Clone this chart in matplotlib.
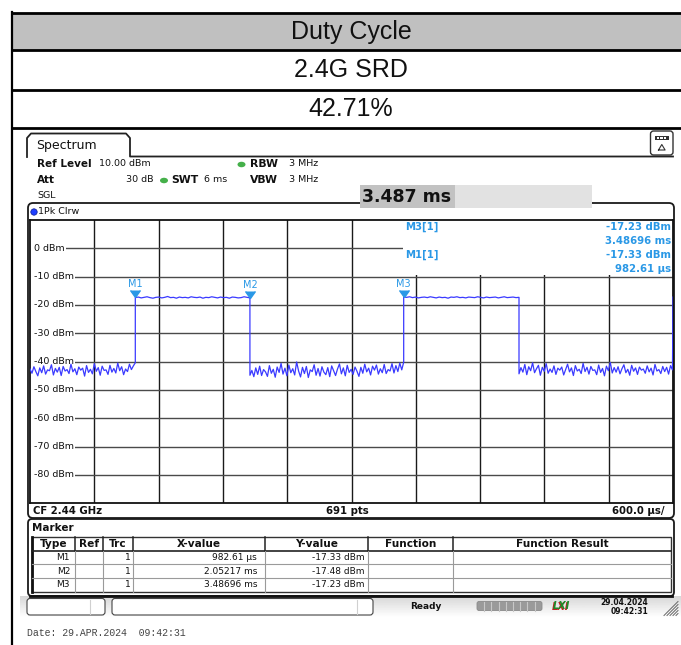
import numpy as np
import matplotlib
matplotlib.use("Agg")
import matplotlib.pyplot as plt
from matplotlib.patches import Rectangle, FancyBboxPatch, Ellipse, Circle

# ---------------- data ----------------
title_rows = ["Duty Cycle", "2.4G SRD", "42.71%"]

t_total_ms = 6.0
x_div_ms = 0.6
y_ref = 10
y_bottom = -90
y_label_vals = [0, -10, -20, -30, -40, -50, -60, -70, -80]

edges_ms = [0.0, 0.98261, 2.05217, 3.48696, 4.5630, 5.995]

off1 = [-42.6, -44.1, -41.8, -43.5, -45.0, -42.2, -43.9, -41.5, -44.4, -42.9, -43.2, -41.1, -44.7, -42.4,
        -43.7, -42.0, -44.9, -41.7, -43.3, -42.8, -44.2, -40.9, -43.6, -42.5, -44.6, -41.9, -43.0, -42.3,
        -45.1, -41.4, -43.8, -42.7, -44.3, -40.7, -43.4, -42.1, -44.8, -41.6, -43.1, -42.9, -44.5, -41.3,
        -43.7, -42.4, -44.0, -40.5, -43.2, -41.8, -44.6, -42.6, -43.5, -40.9, -42.8, -41.5, -40.4]
on1 = [-17.4, -17.2, -17.5, -17.3, -17.1, -17.4, -17.6, -17.3, -17.2, -17.5, -17.3, -17.0, -17.4, -17.3,
       -17.6, -17.2, -17.4, -17.3, -17.5, -17.1, -17.3, -17.4, -17.2, -17.6, -17.3, -17.4, -17.1, -17.3,
       -17.5, -17.2, -17.4, -17.3, -17.6, -17.2, -17.3, -17.5, -17.4, -17.1, -17.3, -17.48]
off2 = [-44.8, -43.1, -45.3, -42.2, -44.5, -41.6, -44.9, -42.8, -43.6, -45.2, -41.4, -44.1, -42.7, -45.5,
        -41.9, -43.8, -40.6, -44.4, -42.3, -45.0, -41.2, -43.9, -42.5, -44.7, -40.1, -43.3, -45.4, -42.0,
        -44.2, -41.7, -45.6, -42.9, -43.5, -41.1, -44.8, -42.4, -45.1, -41.8, -43.7, -44.6, -42.1, -45.3,
        -41.5, -43.2, -44.9, -42.6, -40.8, -44.3, -42.2, -45.0, -41.3, -43.8, -42.7, -44.5, -41.9, -43.4,
        -45.2, -42.0, -44.1, -40.9, -43.6, -42.3, -44.7, -41.6, -43.0, -41.2, -44.4, -42.5, -43.9, -41.0,
        -44.2, -42.8, -43.3, -40.7, -44.0, -41.4, -43.5, -40.5, -42.9, -40.2]
on2 = [-17.23, -17.3, -17.1, -17.4, -17.2, -17.5, -17.3, -17.2, -17.4, -17.1, -17.3, -17.5, -17.2, -17.4,
       -17.3, -17.6, -17.2, -17.3, -17.1, -17.4, -17.3, -17.5, -17.2, -17.3, -17.4, -17.1, -17.3, -17.5,
       -17.2, -17.4, -17.3, -17.2, -17.5, -17.3, -17.1, -17.4, -17.3, -17.2, -17.4, -17.3]
off3 = [-44.3, -42.1, -43.7, -41.0, -44.6, -41.8, -43.2, -40.4, -43.9, -42.5, -41.3, -44.8, -42.0, -43.4,
        -40.7, -44.1, -42.6, -43.8, -41.5, -44.5, -42.3, -43.0, -41.9, -44.7, -42.8, -40.9, -43.6, -42.2,
        -44.9, -41.4, -43.3, -42.7, -44.2, -40.6, -43.5, -42.0, -44.4, -41.7, -43.1, -42.9, -44.6, -41.2,
        -43.8, -42.4, -45.0, -41.6, -43.2, -40.3, -44.0, -42.1, -43.7, -41.8, -44.3, -42.5, -41.1, -43.9,
        -42.7, -44.8, -41.3, -43.4, -42.2, -44.5, -41.9, -43.0, -42.6, -44.1, -41.5, -43.6, -42.3, -44.7,
        -41.0, -43.3, -42.8, -44.2, -41.7, -43.5, -42.0, -44.4, -41.4, -42.9]
end_spike = -17.2

marker_names = ["M1", "M2", "M3"]
marker_x_ms = [0.98261, 2.05217, 3.48696]
marker_y_dbm = [-17.33, -17.48, -17.23]
marker_x_text = ["982.61 µs", "2.05217 ms", "3.48696 ms"]
marker_y_text = ["-17.33 dBm", "-17.48 dBm", "-17.23 dBm"]
marker_trc = ["1", "1", "1"]
table_headers = ["Type", "Ref", "Trc", "X-value", "Y-value", "Function", "Function Result"]

# ---------------- figure ----------------
W, H = 681, 645
fig = plt.figure(figsize=(W / 100, H / 100), dpi=100)
ov = fig.add_axes([0, 0, 1, 1])
ov.set_xlim(0, W)
ov.set_ylim(H, 0)
ov.axis("off")

def pax(x0, y0, x1, y1):
    return [x0 / W, 1 - y1 / H, (x1 - x0) / W, (y1 - y0) / H]

SANS = "DejaVu Sans"
TXT = "#111111"

# top table
ov.add_patch(Rectangle((12, 13), W - 12, 37, fc="#c0c0c0", ec="none"))
for yy in [13, 50, 90, 127.5]:
    ov.plot([12, W], [yy, yy], color="black", lw=2, solid_capstyle="butt")
ov.plot([12, 12], [12, H], color="black", lw=1.6)
for txt, yy in zip(title_rows, [31.5, 70, 108.5]):
    ov.text(351, yy, txt, ha="center", va="center", fontsize=18, family="Liberation Sans", color="#111")

# spectrum tab
ov.plot([27, 27, 31, 126, 130, 130, 673], [157, 138, 133.5, 133.5, 138, 156.5, 156.5], color="#222", lw=1.3)
ov.text(36, 145, "Spectrum", fontsize=9, family=SANS, va="center", color=TXT)
ov.add_patch(FancyBboxPatch((650.5, 131), 22.5, 24, boxstyle="round,pad=0,rounding_size=3", fc="white", ec="#333", lw=1))
ov.add_patch(Rectangle((655, 135.5), 13.5, 4.5, fc="#333", ec="none"))
for k in range(3):
    ov.add_patch(Rectangle((656.5 + k * 3.6, 136.5), 2.4, 2.5, fc="white", ec="none"))
ov.plot([658.5, 661.8, 665.1, 658.5], [150, 144.5, 150, 150], color="#333", lw=0.8)

# header
ov.text(37, 164, "Ref Level", fontsize=7.5, weight="bold", va="center", family=SANS, color=TXT)
ov.text(99, 164, "10.00 dBm", fontsize=6.8, va="center", family=SANS, color=TXT)
ov.text(37, 180, "Att", fontsize=7.5, weight="bold", va="center", family=SANS, color=TXT)
ov.text(153, 180, "30 dB", fontsize=6.8, va="center", ha="right", family=SANS, color=TXT)
ov.add_patch(Ellipse((164, 180.5), 8, 5.5, fc="#45b04a", ec="none"))
ov.text(171, 180, "SWT", fontsize=7.8, weight="bold", va="center", family=SANS, color=TXT)
ov.text(204, 180, "6 ms", fontsize=6.8, va="center", family=SANS, color=TXT)
ov.add_patch(Ellipse((241.5, 164.5), 8, 5.5, fc="#45b04a", ec="none"))
ov.text(250, 164, "RBW", fontsize=7.8, weight="bold", va="center", family=SANS, color=TXT)
ov.text(289, 164, "3 MHz", fontsize=6.8, va="center", family=SANS, color=TXT)
ov.text(250, 180, "VBW", fontsize=7.8, weight="bold", va="center", family=SANS, color=TXT)
ov.text(289, 180, "3 MHz", fontsize=6.8, va="center", family=SANS, color=TXT)
ov.text(37, 196, "SGL", fontsize=6.8, va="center", family=SANS, color=TXT)

# panel frame
ov.add_patch(FancyBboxPatch((28, 203), 646, 315, boxstyle="round,pad=0,rounding_size=5", fc="white", ec="#1a1a1a", lw=1.3))
ov.add_patch(Rectangle((360, 185), 232, 22.5, fc="#e2e2e2", ec="none"))
ov.add_patch(Rectangle((360, 185), 95, 22.5, fc="#c2c2c2", ec="none"))
ov.text(362, 197, "3.487 ms", fontsize=12.5, weight="bold", va="center", family=SANS, color="#111")
ov.add_patch(Circle((34, 212), 3.2, fc="#1f3fff", ec="#0a1a90", lw=0.5))
ov.text(38, 212, "1Pk Clrw", fontsize=6.8, va="center", family=SANS, color=TXT)

ov.text(33, 510.5, "CF 2.44 GHz", fontsize=7.3, weight="bold", va="center", family=SANS, color=TXT)
ov.text(347, 510.5, "691 pts", fontsize=7.3, weight="bold", va="center", ha="center", family=SANS, color=TXT)
ov.text(665, 510.5, "600.0 µs/", fontsize=7.3, weight="bold", va="center", ha="right", family=SANS, color=TXT)

# ---------------- trace axes ----------------
ax = fig.add_axes(pax(30, 220, 673, 503.3))
ax.set_zorder(2)
ax.set_xlim(0, t_total_ms)
ax.set_ylim(y_bottom, y_ref)
ax.set_xticks([])
ax.set_yticks([])
for s in ax.spines.values():
    s.set_linewidth(1.3)
    s.set_color("#111")
ndiv = int(round(t_total_ms / x_div_ms))
for i in range(1, ndiv):
    ax.axvline(i * x_div_ms, color="#1a1a1a", lw=1, zorder=1)
for v in range(y_bottom + 10, y_ref, 10):
    ax.axhline(v, color="#4a4a4a", lw=1, zorder=1)
for v in y_label_vals:
    ax.add_patch(Rectangle((0, v - 1.5), 0.06, 3.0, fc="white", ec="none", zorder=1.5))
    ax.text(0.04, v, f"{v} dBm", ha="left", va="center", fontsize=6.8, family=SANS, color=TXT,
            bbox=dict(fc="white", ec="none", pad=0.6), zorder=2)
# marker info area
ax.add_patch(Rectangle((3.48, -9.5), 2.52, 19.5, fc="white", ec="none", zorder=2))

segs = [off1, on1, off2, on2, off3]
tt, yy = [], []
for k, vals in enumerate(segs):
    ts = np.linspace(edges_ms[k], edges_ms[k + 1], len(vals))
    tt.extend(ts)
    yy.extend(vals)
tt.append(t_total_ms)
yy.append(end_spike)
ax.plot(tt, yy, color="#3a3aff", lw=0.9, zorder=3)

MCOL = "#2a98e6"
ax.plot(marker_x_ms, marker_y_dbm, ls="none", marker=7, ms=7, color=MCOL, zorder=4)
for n, mx, my in zip(marker_names, marker_x_ms, marker_y_dbm):
    ax.annotate(n, (mx, my), xytext=(0, 9.5), textcoords="offset points", ha="center", va="center",
                fontsize=7, color=MCOL, family=SANS, zorder=4)

info = [("M3[1]", "-17.23 dBm", 227), (None, "3.48696 ms", 241), ("M1[1]", "-17.33 dBm", 255), (None, "982.61 µs", 269)]
for lab, val, y0 in info:
    if lab:
        ax.text(405, y0, lab, transform=ov.transData, fontsize=7.3, weight="bold", color=MCOL,
                va="center", family=SANS, zorder=5, clip_on=False)
    ax.text(671, y0, val, transform=ov.transData, fontsize=7.3, weight="bold", color=MCOL,
            va="center", ha="right", family=SANS, zorder=5, clip_on=False)

# ---------------- marker table ----------------
ov.add_patch(FancyBboxPatch((28, 519), 646, 77, boxstyle="round,pad=0,rounding_size=4", fc="white", ec="#1a1a1a", lw=1.3))
ov.plot([30, 672], [595.5, 595.5], color="#111", lw=2)
ov.text(32, 528, "Marker", fontsize=7.5, weight="bold", va="center", family=SANS, color=TXT)
ov.add_patch(Rectangle((32, 537), 639, 55, fc="white", ec="#333", lw=1))
ov.plot([32, 32], [537, 592], color="#111", lw=2)
ov.plot([32, 671], [550.7, 550.7], color="#222", lw=1.2)
for yv in [564.2, 577.8]:
    ov.plot([32, 671], [yv, yv], color="#9a9a9a", lw=0.8)
col_div = [75, 103, 133, 265, 368, 453]
for xv in col_div:
    ov.plot([xv, xv], [537, 550.7], color="#222", lw=1.1)
    ov.plot([xv, xv], [550.7, 592], color="#9a9a9a", lw=0.8)
hdr_x = [53.5, 89, 118, 199, 316.5, 410.5, 562]
for h, xv in zip(table_headers, hdr_x):
    ov.text(xv, 543.8, h, ha="center", va="center", fontsize=7.6, weight="bold", family=SANS, color=TXT)
row_y = [557.5, 571, 584.5]
for i in range(3):
    y0 = row_y[i]
    ov.text(70, y0, marker_names[i], ha="right", va="center", fontsize=6.5, family=SANS, color=TXT)
    ov.text(131, y0, marker_trc[i], ha="right", va="center", fontsize=6.5, family=SANS, color=TXT)
    ov.text(257, y0, marker_x_text[i], ha="right", va="center", fontsize=6.5, family=SANS, color=TXT)
    ov.text(365, y0, marker_y_text[i], ha="right", va="center", fontsize=6.5, family=SANS, color=TXT)

# ---------------- status bar ----------------
grad = np.linspace(0.84, 1.0, 50).reshape(-1, 1)
ov.imshow(grad, extent=(20, W, 617, 596), cmap="gray", vmin=0, vmax=1, aspect="auto", zorder=0.5)
ov.set_xlim(0, W)
ov.set_ylim(H, 0)
ov.add_patch(FancyBboxPatch((27, 598.5), 78, 16.5, boxstyle="round,pad=0,rounding_size=3", fc="white", ec="#444", lw=0.8, zorder=1))
ov.add_patch(FancyBboxPatch((112, 598.5), 261, 16.5, boxstyle="round,pad=0,rounding_size=3", fc="white", ec="#444", lw=0.8, zorder=1))
ov.plot([90, 90], [600, 614], color="#d0d0d0", lw=0.8, zorder=2)
ov.plot([357, 357], [600, 614], color="#d0d0d0", lw=0.8, zorder=2)
ov.text(426, 606.5, "Ready", ha="center", va="center", fontsize=6.5, weight="bold", family=SANS, color=TXT, zorder=2)
ov.add_patch(FancyBboxPatch((477, 601.5), 65, 9, boxstyle="round,pad=0,rounding_size=2", fc="#9a9a9a", ec="#8a8a8a", lw=0.6, zorder=1))
for k in range(1, 9):
    ov.plot([477 + k * 7.2, 477 + k * 7.2], [602, 610.5], color="#c8c8c8", lw=0.8, zorder=2)
ov.text(560.5, 606.5, "LXI", ha="center", va="center", fontsize=7, weight="bold", style="italic",
        family=SANS, color="#c02020", zorder=2)
ov.text(561.5, 606, "LXI", ha="center", va="center", fontsize=7, weight="bold", style="italic",
        family=SANS, color="#1e8c2a", zorder=2)
ov.text(648, 602.5, "29.04.2024", ha="right", va="center", fontsize=5.5, weight="bold", family=SANS, color=TXT, zorder=2)
ov.text(648, 611.5, "09:42:31", ha="right", va="center", fontsize=5.5, weight="bold", family=SANS, color=TXT, zorder=2)
for k in range(5):
    ov.plot([664 + 3 * k, 678], [615.5, 601.5 + 3 * k], color="#666", lw=0.7, zorder=2)

ov.text(27, 633.5, "Date: 29.APR.2024  09:42:31", fontsize=7.1, family="Liberation Mono", color="#444", va="center")

fig.savefig("out.png", dpi=100)
